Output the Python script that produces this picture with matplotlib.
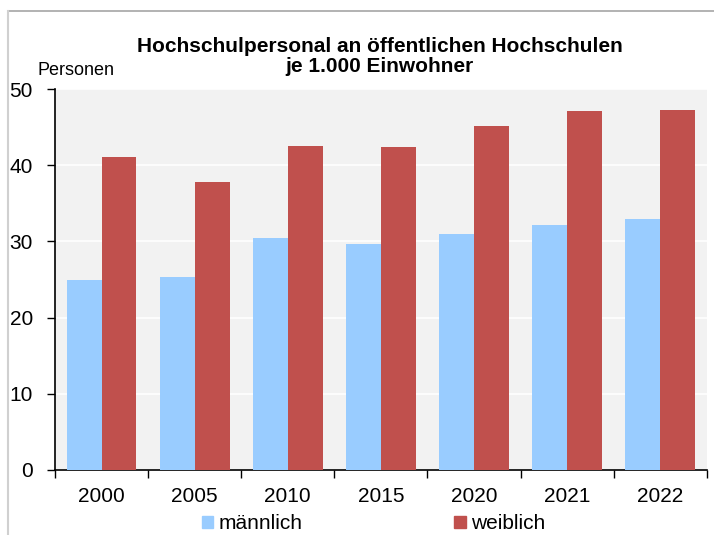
import numpy as np
import matplotlib.pyplot as plt
from matplotlib.lines import Line2D
from matplotlib.patches import Patch

plt.rcParams['font.family'] = ['Liberation Sans', 'DejaVu Sans']

# Daten: Hochschulpersonal je 1.000 Einwohner
jahre = ["2000", "2005", "2010", "2015", "2020", "2021", "2022"]
maennlich = [25.0, 25.3, 30.4, 29.6, 31.0, 32.1, 32.9]
weiblich = [41.1, 37.8, 42.5, 42.4, 45.1, 47.1, 47.2]
y_ticks = [0, 10, 20, 30, 40, 50]

farbe_m = "#99ccff"
farbe_w = "#c0504d"

fig = plt.figure(figsize=(7.14, 5.35), dpi=100)
ax = fig.add_axes([0.077, 0.1215, 0.913, 0.712])

x = np.arange(len(jahre))
w = 0.375
ax.bar(x - w / 2, maennlich, width=w, color=farbe_m, zorder=3)
ax.bar(x + w / 2, weiblich, width=w, color=farbe_w, zorder=3)

ax.set_facecolor("#f2f2f2")
ax.set_ylim(0, 50)
ax.set_xlim(-0.5, len(jahre) - 0.5)
ax.set_yticks(y_ticks)
ax.yaxis.grid(True, color="white", linewidth=1.2, zorder=0)

# Kategoriegrenzen als Ticks, Labels in der Mitte
ax.set_xticks(np.arange(len(jahre) + 1) - 0.5)
ax.set_xticklabels([])
ax.set_xticks(x, minor=True)
ax.set_xticklabels(jahre, minor=True, fontsize=15)
ax.tick_params(axis='x', which='minor', length=0, pad=12)
ax.tick_params(axis='x', which='major', length=6, width=1, direction='out')
ax.tick_params(axis='y', length=6, width=1, direction='out', labelsize=15, pad=10)

for s in ["top", "right"]:
    ax.spines[s].set_visible(False)
ax.spines["left"].set_linewidth(1.2)
ax.spines["bottom"].set_linewidth(1.2)

fig.text(0.5315, 0.9028, "Hochschulpersonal an öffentlichen Hochschulen",
         ha="center", va="baseline", fontsize=15, fontweight="bold")
fig.text(0.5315, 0.8654, "je 1.000 Einwohner",
         ha="center", va="baseline", fontsize=15, fontweight="bold")
fig.text(0.052, 0.86, "Personen", ha="left", va="baseline", fontsize=13)

handles = [Patch(color=farbe_m), Patch(color=farbe_w)]
fig.legend(handles, ["männlich", "weiblich"], loc="center", bbox_to_anchor=(0.523, 0.021),
           ncol=2, frameon=False, fontsize=15, handlelength=0.55, handleheight=0.5,
           handletextpad=0.24, columnspacing=7.3, borderpad=0)

# Rahmen
fig.add_artist(Line2D([0.0115, 1.0], [0.979, 0.979], color="#a6a6a6", linewidth=1.2, transform=fig.transFigure))
fig.add_artist(Line2D([0.0115, 0.0115], [0.0, 0.979], color="#d0d0d0", linewidth=1.5, transform=fig.transFigure))

fig.savefig("out.png", dpi=100)
